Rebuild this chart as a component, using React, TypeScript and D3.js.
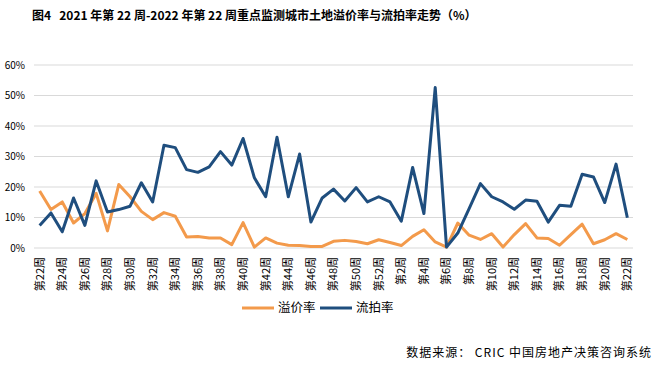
import React, { useEffect, useRef } from "react";
import * as d3 from "d3";

// 2021 w22 .. w52, then 2022 w1 .. w22
const weeks: string[] = [
  ...d3.range(22, 53).map((w) => `第${w}周`),
  ...d3.range(1, 23).map((w) => `第${w}周`),
];

// 溢价率 (%)
const premiumRate: number[] = [
  18.7, 12.6, 15.1, 8.2, 11.3, 17.9, 5.6, 20.8, 16.8, 12.0, 9.3, 11.6, 10.4, 3.6, 3.8, 3.3,
  3.3, 1.1, 8.3, 0.3, 3.3, 1.6, 0.9, 0.8, 0.5, 0.5, 2.2, 2.5, 2.1, 1.4, 2.7, 1.8,
  0.8, 3.8, 6.0, 2.0, 0.3, 8.2, 4.2, 2.8, 4.7, 0.3, 4.4, 8.0, 3.3, 3.1, 0.9, 4.4,
  7.8, 1.4, 2.7, 4.7, 2.8,
];

// 流拍率 (%)
const failRate: number[] = [
  7.4, 11.5, 5.3, 16.4, 7.4, 22.0, 11.8, 12.6, 13.7, 21.4, 15.1, 33.7, 32.9, 25.7, 24.8, 26.6,
  31.6, 27.2, 35.9, 23.0, 16.8, 36.3, 16.8, 30.8, 8.5, 16.4, 19.3, 15.4, 19.8, 15.1, 16.8, 15.1,
  8.8, 26.4, 11.3, 52.6, 0.3, 4.9, 12.9, 21.1, 16.8, 15.1, 12.7, 15.7, 15.3, 8.5, 14.0, 13.7,
  24.2, 23.3, 14.9, 27.5, 9.9,
];

const yTicks: number[] = [0, 10, 20, 30, 40, 50, 60];

const title = "图4   2021 年第 22 周-2022 年第 22 周重点监测城市土地溢价率与流拍率走势（%）";
const source = "数据来源： CRIC 中国房地产决策咨询系统";

const series = [
  { name: "溢价率", values: premiumRate, color: "#F39A4B" },
  { name: "流拍率", values: failRate, color: "#1F4E7E" },
];

const W = 663;
const H = 370;
const margin = { top: 65, right: 30, bottom: 122, left: 34 };
const FONT = "'Noto Sans CJK SC', 'Noto Sans', sans-serif";

export default function App() {
  const ref = useRef<SVGSVGElement>(null);

  useEffect(() => {
    const svg = d3.select(ref.current);
    svg.selectAll("*").remove();

    // week names repeat across the year boundary, so key the band scale by index
    const x = d3
      .scaleBand<number>()
      .domain(d3.range(weeks.length))
      .range([margin.left, W - margin.right]);
    const cx = (i: number) => x(i)! + x.bandwidth() / 2;
    const y = d3
      .scaleLinear()
      .domain([0, 60])
      .range([H - margin.bottom, margin.top]);

    svg
      .append("rect")
      .attr("width", W)
      .attr("height", H)
      .attr("fill", "#fff");

    // title
    svg
      .append("text")
      .attr("x", 32)
      .attr("y", 20)
      .attr("font-family", FONT)
      .attr("font-weight", "bold")
      .attr("font-size", 12)
      .attr("fill", "#000")
      .style("white-space", "pre")
      .text(title);

    // grid
    const grid = svg.append("g");
    yTicks.forEach((t) => {
      grid
        .append("line")
        .attr("x1", margin.left)
        .attr("x2", W - margin.right)
        .attr("y1", y(t))
        .attr("y2", y(t))
        .attr("stroke", "#D9D9D9")
        .attr("stroke-width", 1);
      grid
        .append("text")
        .attr("x", 25)
        .attr("y", y(t))
        .attr("dy", "0.35em")
        .attr("text-anchor", "end")
        .attr("font-family", FONT)
        .attr("font-size", 10)
        .attr("fill", "#000")
        .text(t + "%");
    });

    // x labels, every other week, rotated
    const xl = svg.append("g");
    weeks.forEach((w, i) => {
      if (i % 2 !== 0) return;
      xl.append("text")
        .attr("transform", `translate(${cx(i)},257) rotate(-90)`)
        .attr("text-anchor", "end")
        .attr("dy", "0.35em")
        .attr("font-family", FONT)
        .attr("font-size", 11)
        .attr("fill", "#000")
        .text(w);
    });

    // lines
    series.forEach((s) => {
      const line = d3
        .line<number>()
        .x((_, i) => cx(i))
        .y((d) => y(d));
      svg
        .append("path")
        .datum(s.values)
        .attr("d", line)
        .attr("fill", "none")
        .attr("stroke", s.color)
        .attr("stroke-width", 3)
        .attr("stroke-linejoin", "round");
    });

    // legend
    const legend = svg.append("g");
    const lx = [242, 320];
    series.forEach((s, i) => {
      legend
        .append("line")
        .attr("x1", lx[i])
        .attr("x2", lx[i] + 32)
        .attr("y1", 308)
        .attr("y2", 308)
        .attr("stroke", s.color)
        .attr("stroke-width", 3);
      legend
        .append("text")
        .attr("x", lx[i] + 36)
        .attr("y", 308)
        .attr("dy", "0.35em")
        .attr("font-family", FONT)
        .attr("font-size", 12.5)
        .attr("fill", "#000")
        .text(s.name);
    });

    // source
    svg
      .append("text")
      .attr("x", 652)
      .attr("y", 353)
      .attr("dy", "0.35em")
      .attr("text-anchor", "end")
      .attr("font-family", FONT)
      .attr("font-size", 12)
      .attr("letter-spacing", 1)
      .attr("fill", "#000")
      .style("white-space", "pre")
      .text(source);
  }, []);

  return (
    <svg
      ref={ref}
      width={W}
      height={H}
      style={{ position: "absolute", left: 0, top: 0, display: "block" }}
    />
  );
}
